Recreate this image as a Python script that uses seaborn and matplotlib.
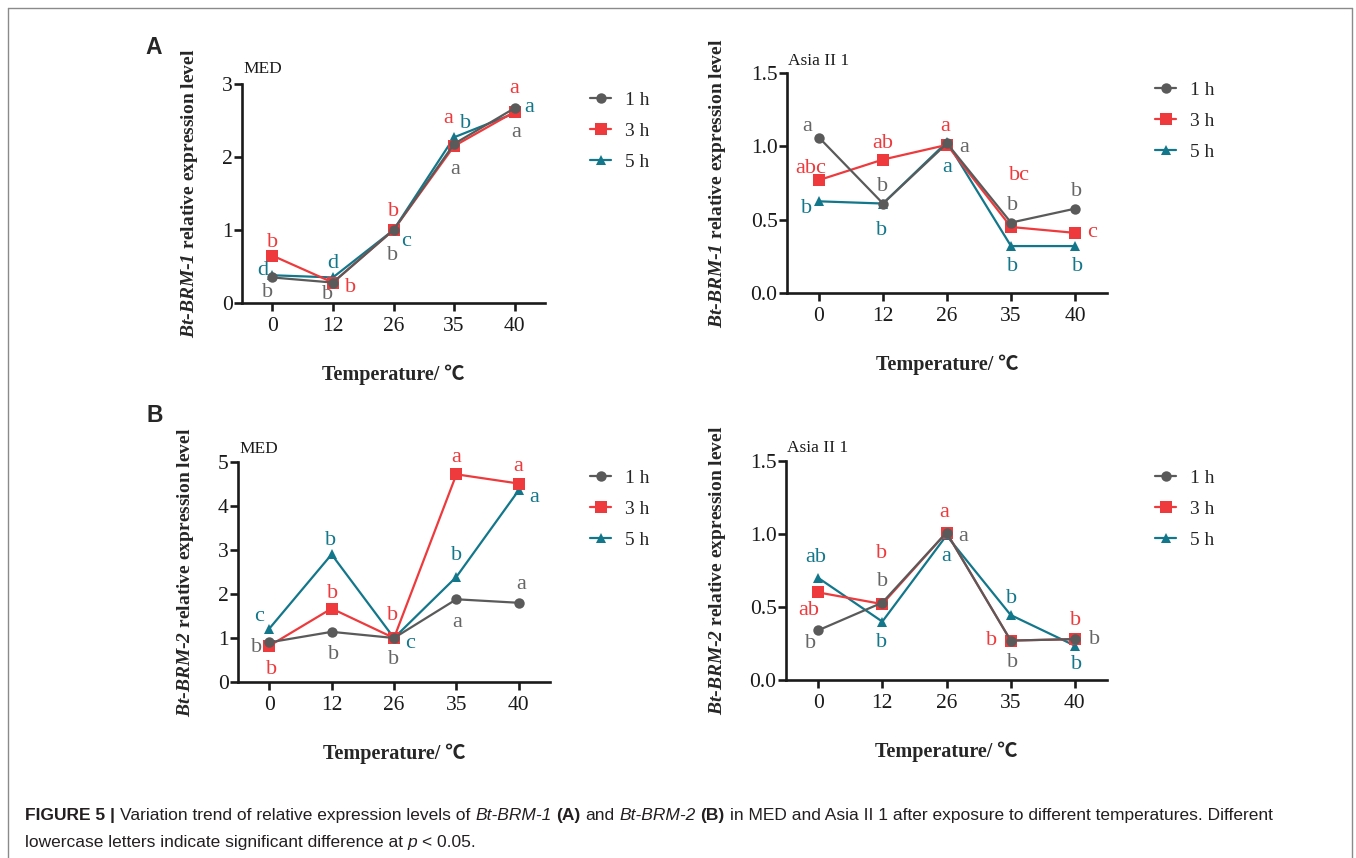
import numpy as np
import pandas as pd
import matplotlib
matplotlib.use("Agg")
import matplotlib.pyplot as plt
from matplotlib.lines import Line2D
import seaborn as sns

# ---------------- data ----------------
temps = ["0", "12", "26", "35", "40"]
times = ["1 h", "3 h", "5 h"]

medA_1h = [0.35, 0.28, 1.00, 2.18, 2.67]
medA_3h = [0.65, 0.28, 1.00, 2.15, 2.62]
medA_5h = [0.38, 0.35, 1.00, 2.27, 2.60]
medA_let_1h = ["b", "b", "b", "a", "a"]
medA_let_3h = ["b", "b", "b", "a", "a"]
medA_let_5h = ["d", "d", "c", "b", "a"]

asiaA_1h = [1.06, 0.61, 1.02, 0.48, 0.575]
asiaA_3h = [0.77, 0.91, 1.01, 0.45, 0.41]
asiaA_5h = [0.625, 0.61, 1.03, 0.32, 0.32]
asiaA_let_1h = ["a", "b", "a", "b", "b"]
asiaA_let_3h = ["abc", "ab", "a", "bc", "c"]
asiaA_let_5h = ["b", "b", "a", "b", "b"]

medB_1h = [0.90, 1.14, 1.00, 1.88, 1.80]
medB_3h = [0.82, 1.67, 1.00, 4.72, 4.51]
medB_5h = [1.21, 2.90, 1.00, 2.39, 4.36]
medB_let_1h = ["b", "b", "b", "a", "a"]
medB_let_3h = ["b", "b", "b", "a", "a"]
medB_let_5h = ["c", "b", "c", "b", "a"]

asiaB_1h = [0.34, 0.53, 1.01, 0.27, 0.28]
asiaB_3h = [0.60, 0.52, 1.01, 0.27, 0.28]
asiaB_5h = [0.70, 0.40, 0.99, 0.445, 0.235]
asiaB_let_1h = ["b", "b", "a", "b", "b"]
asiaB_let_3h = ["ab", "b", "a", "b", "b"]
asiaB_let_5h = ["ab", "b", "a", "b", "b"]

# ---------------- style / layout ----------------
W, H = 1356, 858
colors = {"1 h": "#5a5a5a", "3 h": "#ee3a3c", "5 h": "#12778a"}
letter_colors = {"1 h": "#666666", "3 h": "#ee3a3c", "5 h": "#12778a"}
markers = {"1 h": "o", "3 h": "s", "5 h": "^"}

# letter offsets in pixels (dx, dy up) relative to each point
off_medA = {"1 h": [(-5, -15), (-5, -12), (-1, -25), (1, -26), (1, -24)],
            "3 h": [(0, 13), (18, -5), (0, 18), (-6, 28), (-1, 23)],
            "5 h": [(-10, 5), (0, 14), (13, -12), (11, 14), (14, 6)]}
off_asiaA = {"1 h": [(-12, 11), (0, 17), (17, -4), (2, 17), (2, 17)],
             "3 h": [(-8, 12), (0, 16), (-2, 18), (8, 51), (17, 0)],
             "5 h": [(-12, -7), (-1, -27), (0, -26), (2, -20), (3, -20)]}
off_medB = {"1 h": [(-13, -5), (2, -23), (0, -22), (1, -23), (2, 18)],
            "3 h": [(2, -24), (1, 15), (-1, 23), (0, 17), (-1, 17)],
            "5 h": [(-10, 12), (-1, 14), (16, -6), (0, 21), (15, -7)]}
off_asiaB = {"1 h": [(-8, -13), (0, 21), (17, -4), (2, -22), (20, 0)],
             "3 h": [(-9, -18), (-1, 51), (-2, 20), (-19, 0), (1, 19)],
             "5 h": [(-2, 20), (-1, -21), (0, -21), (1, 17), (2, -19)]}

sns.set_theme(style="ticks")
plt.rcParams["font.family"] = ["Liberation Serif", "Noto Sans CJK SC", "DejaVu Serif"]
plt.rcParams["mathtext.fontset"] = "custom"
plt.rcParams["mathtext.rm"] = "Liberation Serif"
plt.rcParams["mathtext.it"] = "Liberation Serif:italic"
plt.rcParams["mathtext.bf"] = "Liberation Serif:bold"
plt.rcParams["mathtext.bfit"] = "Liberation Serif:bold:italic"

fig = plt.figure(figsize=(W / 100, H / 100), dpi=100)


def rect(l, t, r, b):
    return [l / W, 1 - b / H, (r - l) / W, (b - t) / H]


panels = [
    dict(rect=rect(242, 84, 545, 303), vals=[medA_1h, medA_3h, medA_5h],
         lets=[medA_let_1h, medA_let_3h, medA_let_5h], offs=off_medA,
         yt=[0, 1, 2, 3], ytl=["0", "1", "2", "3"], title="MED", tdy=15,
         gene="1", ylx=-52, leg=(590, 131)),
    dict(rect=rect(787, 73, 1107, 293), vals=[asiaA_1h, asiaA_3h, asiaA_5h],
         lets=[asiaA_let_1h, asiaA_let_3h, asiaA_let_5h], offs=off_asiaA,
         yt=[0, 0.5, 1.0, 1.5], ytl=["0.0", "0.5", "1.0", "1.5"], title="Asia II 1", tdy=12,
         gene="1", ylx=-70, leg=(1155, 121)),
    dict(rect=rect(238, 462, 550, 682), vals=[medB_1h, medB_3h, medB_5h],
         lets=[medB_let_1h, medB_let_3h, medB_let_5h], offs=off_medB,
         yt=[0, 1, 2, 3, 4, 5], ytl=["0", "1", "2", "3", "4", "5"], title="MED", tdy=13,
         gene="2", ylx=-53, leg=(590, 509)),
    dict(rect=rect(786, 461, 1107, 680), vals=[asiaB_1h, asiaB_3h, asiaB_5h],
         lets=[asiaB_let_1h, asiaB_let_3h, asiaB_let_5h], offs=off_asiaB,
         yt=[0, 0.5, 1.0, 1.5], ytl=["0.0", "0.5", "1.0", "1.5"], title="Asia II 1", tdy=13,
         gene="2", ylx=-69, leg=(1155, 509)),
]

for p in panels:
    ax = fig.add_axes(p["rect"])
    df = pd.DataFrame({
        "idx": np.tile(np.arange(len(temps)), len(times)),
        "value": np.concatenate(p["vals"]),
        "time": np.repeat(times, len(temps)),
    })
    for t in ["5 h", "3 h", "1 h"]:
        sub = df[df["time"] == t]
        sns.lineplot(data=sub, x="idx", y="value", ax=ax, color=colors[t],
                     marker=markers[t], markersize=8 if t == "3 h" else 7.5,
                     markeredgewidth=0, linewidth=1.6, label=t,
                     errorbar=None, clip_on=False)
    # significance letters
    for k, t in enumerate(times):
        for i in range(len(temps)):
            dx, dy = p["offs"][t][i]
            ax.annotate(p["lets"][k][i], xy=(i, p["vals"][k][i]), xytext=(dx, dy),
                        textcoords="offset pixels", ha="center", va="center",
                        fontsize=16, color=letter_colors[t],
                        family="Liberation Serif", annotation_clip=False)
    ax.set_xlim(-0.5, 4.5)
    ax.set_ylim(p["yt"][0], p["yt"][-1])
    ax.set_xticks(range(len(temps)))
    ax.set_xticklabels(temps)
    ax.set_yticks(p["yt"])
    ax.set_yticklabels(p["ytl"])
    sns.despine(ax=ax)
    for s in ["left", "bottom"]:
        ax.spines[s].set_linewidth(1.9)
        ax.spines[s].set_color("#1a1a1a")
    ax.tick_params(axis="both", length=5.8, width=1.9, color="#1a1a1a",
                   labelsize=15.5, labelcolor="#1a1a1a")
    ax.tick_params(axis="y", pad=1)
    ax.tick_params(axis="x", pad=4)
    ax.set_xlabel("Temperature/ \u2103", fontsize=14.5, fontweight="bold",
                  family=["Liberation Serif", "Noto Sans CJK SC"], labelpad=0)
    ax.xaxis.set_label_coords(0.5, -72 / (p["rect"][3] * H))
    ax.xaxis.label.set_va("center")
    ax.set_ylabel(r"$\mathbfit{Bt}$-$\mathbfit{BRM}$-$\mathbfit{" + p["gene"] + r"}$ relative expression level",
                  fontsize=14, fontweight="bold", va="center")
    ax.yaxis.set_label_coords(p["ylx"] / (p["rect"][2] * W), 0.5)
    ax.annotate(p["title"], xy=(0, 1), xycoords="axes fraction", xytext=(1, p["tdy"]),
                textcoords="offset pixels", ha="left", va="center", fontsize=12.5,
                color="#1a1a1a")
    # legend in 1h, 3h, 5h order
    h, l = ax.get_legend_handles_labels()
    order = [l.index(t) for t in times]
    lx, ly = p["leg"]
    ax.legend([h[o] for o in order], [l[o] for o in order], loc="center left",
              bbox_to_anchor=(lx / W, 1 - ly / H), bbox_transform=fig.transFigure,
              frameon=False, fontsize=14, handlelength=1.1, handletextpad=0.7,
              labelspacing=0.68, borderpad=0, borderaxespad=0)

# panel letters
fig.text(154 / W, 1 - 47 / H, "A", fontsize=16.5, fontweight="bold",
         family="Liberation Sans", ha="center", va="center")
fig.text(155 / W, 1 - 415 / H, "B", fontsize=16.5, fontweight="bold",
         family="Liberation Sans", ha="center", va="center")

# frame around figure
for (x0, y0, x1, y1) in [(8, 8, 8, 858), (8, 8, 1352, 8), (1352, 8, 1352, 858)]:
    fig.add_artist(Line2D([x0 / W, x1 / W], [1 - y0 / H, 1 - y1 / H],
                          transform=fig.transFigure, color="#8a8a8a", lw=1.0))

# caption built from styled runs
line1 = [("FIGURE 5 |", "bold", "normal"),
         ("Variation trend of relative expression levels of", "normal", "normal"),
         ("Bt-BRM-1", "normal", "italic"), ("(A)", "bold", "normal"),
         ("and", "normal", "normal"), ("Bt-BRM-2", "normal", "italic"),
         ("(B)", "bold", "normal"),
         ("in MED and Asia II 1 after exposure to different temperatures. Different", "normal", "normal")]
line2 = [("lowercase letters indicate significant difference at", "normal", "normal"),
         ("p", "normal", "italic"), ("< 0.05.", "normal", "normal")]

renderer = fig.canvas.get_renderer()


def place_runs(runs, x0, ybase, size, draw=True):
    x = x0
    probe = fig.text(0, 0, "x x", fontsize=size, family="Liberation Sans")
    probe2 = fig.text(0, 0, "xx", fontsize=size, family="Liberation Sans")
    space = probe.get_window_extent(renderer).width - probe2.get_window_extent(renderer).width
    probe.remove(); probe2.remove()
    for j, (s, wgt, sty) in enumerate(runs):
        t = fig.text(x / W, 1 - ybase / H, s, fontsize=size, fontweight=wgt, fontstyle=sty,
                     family="Liberation Sans", ha="left", va="baseline", color="#231f20")
        bb = t.get_window_extent(renderer)
        x = bb.x1 + space
        if not draw:
            t.remove()
    return x - space


end = place_runs(line1, 25, 820, 10, draw=False)
cap_size = 10 * (1278 - 25) / (end - 25)
place_runs(line1, 25, 820, cap_size)
place_runs(line2, 25, 847, cap_size)

fig.savefig("out.png", dpi=100)
